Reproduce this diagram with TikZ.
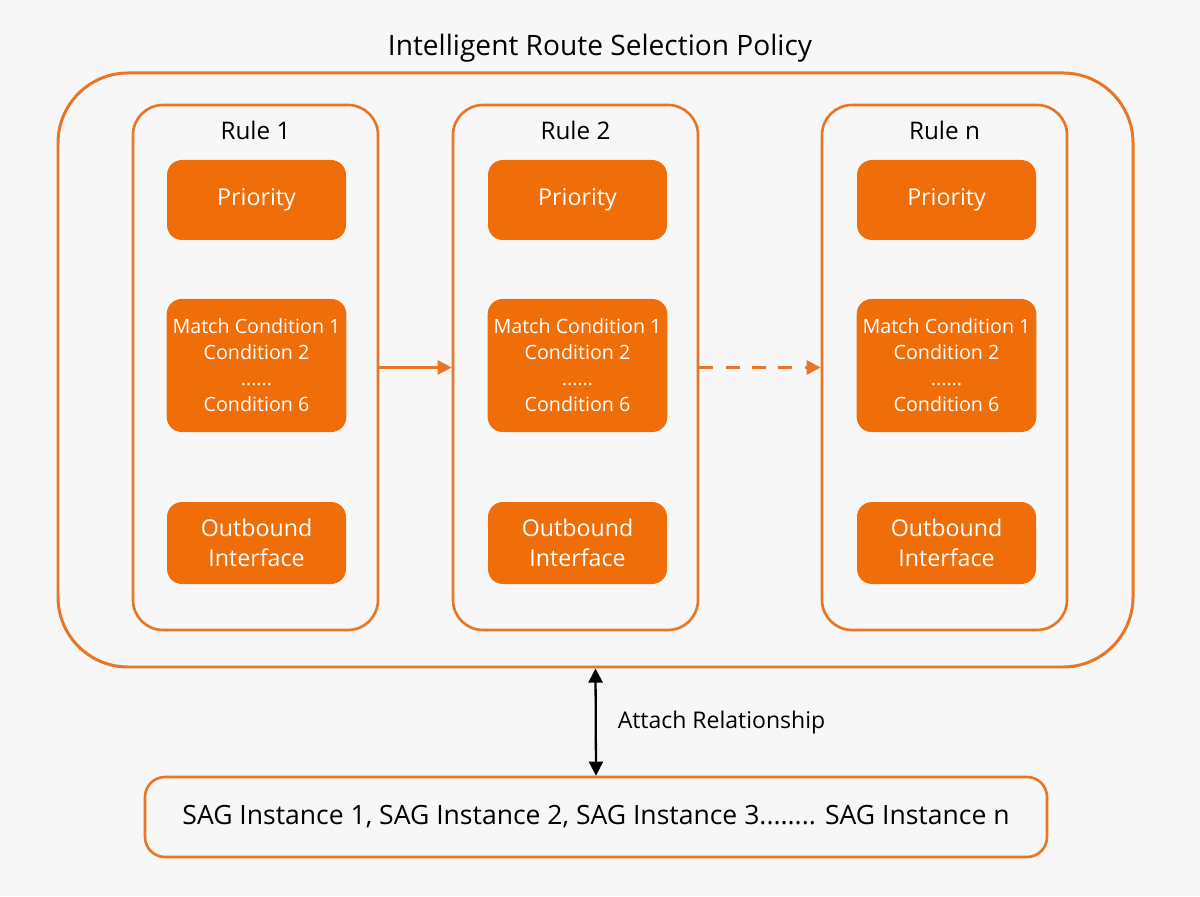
\documentclass[tikz,border=0pt]{standalone}
\usepackage{fontspec}
\setmainfont{Open Sans}
\usepackage{tikz}
\usetikzlibrary{arrows.meta,positioning}
\definecolor{bgray}{RGB}{247,247,247}
\definecolor{ofill}{RGB}{240,110,10}
\definecolor{oline}{RGB}{232,118,38}

\begin{document}
\begin{tikzpicture}[
  policy/.style={draw=oline, line width=1.7pt, rounded corners=1.4cm, minimum width=21.5cm, minimum height=11.88cm},
  rulebox/.style={draw=oline, line width=1.5pt, rounded corners=0.6cm, minimum width=4.9cm, minimum height=10.5cm},
  field/.style={fill=ofill, text=white, rounded corners=0.3cm, minimum width=3.58cm, align=center, font=\fontsize{13.2}{17}\selectfont},
  cond/.style={field, minimum height=2.66cm, font=\fontsize{11.2}{14.8}\selectfont},
  label/.style={font=\fontsize{13.8}{16}\selectfont},
  flow/.style={draw=oline, line width=1.5pt, -{Triangle[length=8pt,width=8pt]}}]
  \useasboundingbox[fill=bgray] (0,0) rectangle (24,17.92);

  \node[label, font=\fontsize{16}{19}\selectfont] (title) at (12,16.96) {Intelligent Route Selection Policy};
  \node[policy] (policy) at (11.91,10.52) {};

  \node[rulebox] (r1) at (5.11,10.57) {};
  \node[rulebox] (r2) at (11.51,10.57) {};
  \node[rulebox] (rn) at (18.89,10.57) {};

  \node[label] (r1t) at (5.11,15.32) {Rule 1};
  \node[label] (r2t) at (11.51,15.32) {Rule 2};
  \node[label] (rnt) at (18.89,15.32) {Rule n};

  \node[field, minimum height=1.6cm] (p1) at (5.13,13.92) {Priority};
  \node[field, minimum height=1.6cm] (p2) at (11.55,13.92) {Priority};
  \node[field, minimum height=1.6cm] (pn) at (18.93,13.92) {Priority};

  \node[cond] (m1) at (5.13,10.61) {Match Condition 1\\Condition 2\\......\\Condition 6};
  \node[cond] (m2) at (11.55,10.61) {Match Condition 1\\Condition 2\\......\\Condition 6};
  \node[cond] (mn) at (18.93,10.61) {Match Condition 1\\Condition 2\\......\\Condition 6};

  \node[field, minimum height=1.64cm] (o1) at (5.13,7.06) {Outbound\\Interface};
  \node[field, minimum height=1.64cm] (o2) at (11.55,7.06) {Outbound\\Interface};
  \node[field, minimum height=1.64cm] (on) at (18.93,7.06) {Outbound\\Interface};

  \draw[flow] (r1) -- (r2);
  \draw[flow, dashed, dash pattern=on 8pt off 7pt] (r2) -- (rn);

  \node[draw=oline, line width=1.5pt, rounded corners=0.4cm, minimum width=18.04cm, minimum height=1.6cm,
        font=\fontsize{15.1}{18}\selectfont] (sag) at (11.92,1.58)
        {SAG Instance 1, SAG Instance 2, SAG Instance 3........ SAG Instance n};

  \draw[line width=1.3pt, {Triangle[length=8pt,width=8pt]}-{Triangle[length=8pt,width=8pt]}] (policy.south) -- (sag.north)
    node[midway, right=0.3cm, font=\fontsize{13.1}{16}\selectfont] (attach) {Attach Relationship};
\end{tikzpicture}
\end{document}
